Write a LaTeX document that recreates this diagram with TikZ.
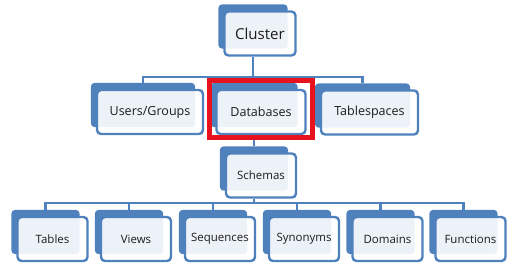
\documentclass[tikz,border=0pt]{standalone}
\usepackage{fontspec}
\setmainfont{Open Sans}
\definecolor{cardblue}{RGB}{79,129,189}
\definecolor{inkgray}{RGB}{28,28,28}
\definecolor{markred}{RGB}{232,18,30}
\usetikzlibrary{calc, fit, backgrounds}
\tikzset{
  cardF/.style={draw=cardblue, fill=white, fill opacity=0.9, text opacity=1,
                rounded corners=3pt, line width=1.8pt, inner sep=0pt,
                minimum width={#1*0.75pt}, minimum height=33pt,
                text=inkgray, align=center},
  cardB/.style={fill=cardblue, rounded corners=3pt, inner sep=0pt},
  link/.style={draw=cardblue, line width=2.1pt},
  markbox/.style={draw=markred, line width=3.9pt, inner sep=0pt},
  topF/.style={font=\fontsize{11.3}{13}\selectfont},
  midF/.style={font=\fontsize{9.4}{11}\selectfont},
  lowF/.style={font=\fontsize{8.6}{10}\selectfont},
}

\begin{document}
\begin{tikzpicture}[x=0.75pt, y=-0.75pt]
    \useasboundingbox (0,0) rectangle (512,272);

    % front cards
    \node[cardF=71, topF]  (cluster)   at (260,  33.5) {Cluster};
    \node[cardF=106, midF] (users)     at (150,  112)  {Users/Groups};
    \node[cardF=89, midF]  (databases) at (261,  112)  {Databases};
    \node[cardF=97, midF]  (tablesp)   at (369.5,112.5){Tablespaces};
    \node[cardF=70, lowF]  (schemas)   at (261,  175.5){Schemas};
    \node[cardF=70, lowF]  (tables)    at (52.5, 239)  {Tables};
    \node[cardF=70, lowF]  (views)     at (136,  239)  {Views};
    \node[cardF=70, lowF]  (sequences) at (220,  239)  {Sequences};
    \node[cardF=70, lowF]  (synonyms)  at (304,  239)  {Synonyms};
    \node[cardF=70, lowF]  (domains)   at (387.5,239)  {Domains};
    \node[cardF=70, lowF]  (functions) at (470.5,239)  {Functions};

    % back cards
    \begin{scope}[on background layer]
      \foreach \n in {cluster, users, databases, tablesp, schemas,
                      tables, views, sequences, synonyms, domains, functions}
        \node[cardB, fit={($(\n.north west)+(-5,-6)$) ($(\n.south east)+(-9,-8)$)}] (\n bk) {};
    \end{scope}

    % connectors
    \coordinate (barA) at (0, 77);
    \coordinate (barB) at (0, 203);
    \draw[link] (clusterbk |- cluster.south) -- (clusterbk |- barA);
    \draw[link] (usersbk.north) |- (tablespbk |- barA) -- (tablespbk.north);
    \draw[link] (databasesbk.north) -- (databasesbk |- barA);
    \draw[link] (databasesbk |- databases.south) -- (schemasbk.north);
    \draw[link] (schemasbk |- schemas.south) -- (schemasbk |- barB);
    \draw[link] (tablesbk.north) |- (functionsbk |- barB) -- (functionsbk.north);
    \foreach \n in {views, sequences, synonyms, domains}
      \draw[link] (\n bk.north) -- (\n bk |- barB);

    % highlight
    \node[markbox, fit={($(databases.north west)+(-5.5,-8)$) ($(databases.south east)+(6,2.5)$)}] (dbmark) {};
  \end{tikzpicture}
\end{document}
